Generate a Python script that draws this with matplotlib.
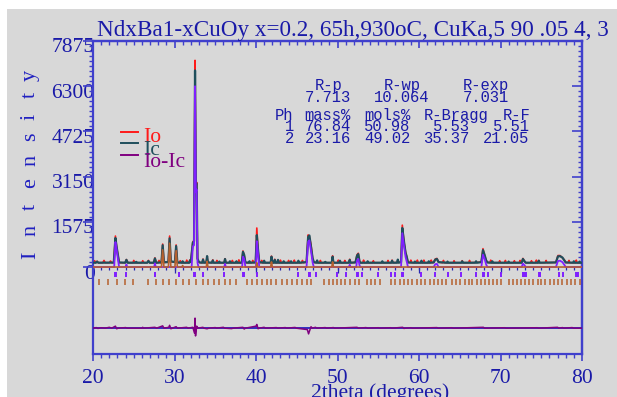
import matplotlib
matplotlib.use('Agg')
import matplotlib.pyplot as plt
import numpy as np
from matplotlib.patches import Rectangle
from matplotlib.lines import Line2D
from matplotlib.ticker import FixedLocator, MultipleLocator
import matplotlib.transforms as mtransforms

# ---- data ----
title = 'NdxBa1-xCuOy x=0.2, 65h,930oC, CuKa,5 90 .05 4, 3'

# observed pattern Io (2theta, counts)
obs_pts = [(20.0,150),(20.2,220),(20.35,150),(20.5,200),(20.65,150),(21.2,150),(21.35,230),(21.5,150),
           (22.0,150),(22.15,210),(22.3,150),(22.55,150),(22.75,1080),(22.9,680),(23.05,440),(23.2,150),
           (23.95,150),(24.1,260),(24.3,150),(24.9,150),(25.0,230),(25.15,150),(26.0,150),(26.1,220),(26.25,150),
           (26.65,150),(26.8,230),(26.95,150),(27.45,150),(27.6,320),(27.75,150),(28.0,150),(28.1,230),(28.25,150),
           (28.4,150),(28.55,800),(28.7,150),(29.25,180),(29.4,1080),(29.55,180),(30.05,170),(30.2,770),(30.35,150),
           (30.6,150),(30.7,220),(30.85,150),(31.4,150),(31.5,240),(31.65,150),(31.8,150),(31.9,250),(32.0,180),
           (32.25,880),(32.4,920),(32.52,7200),(32.62,2700),(32.72,2950),(32.82,290),(32.95,180),(33.1,150),
           (33.4,150),(33.5,280),(33.6,150),(33.9,150),(34.0,370),(34.1,150),(34.6,150),(34.7,250),(34.8,150),
           (35.1,150),(35.2,230),(35.3,150),(36.1,150),(36.2,290),(36.3,150),(37.0,150),(37.1,230),(37.2,150),
           (37.8,150),(37.9,250),(38.0,150),(38.25,150),(38.4,560),(38.55,400),(38.7,150),(39.5,150),(39.6,230),
           (39.7,150),(39.95,160),(40.1,1360),(40.25,560),(40.4,170),(40.6,150),(40.7,230),(40.8,150),
           (41.8,150),(41.9,380),(42.0,150),(42.2,150),(42.3,270),(42.4,150),(42.9,150),(43.0,240),(43.1,150),
           (43.9,150),(44.0,230),(44.1,150),(44.6,150),(44.7,240),(44.8,150),(45.6,150),(45.7,230),(45.8,150),
           (46.2,170),(46.4,1120),(46.55,1050),(46.75,780),(46.95,280),(47.1,160),(47.8,150),(47.9,230),(48.0,150),
           (49.3,150),(49.4,390),(49.5,150),(50.0,150),(50.1,240),(50.2,150),(50.8,150),(50.9,230),(51.0,150),
           (51.4,150),(51.5,270),(51.6,150),(52.2,160),(52.4,430),(52.55,480),(52.7,200),(52.8,150),
           (53.1,150),(53.2,240),(53.3,150),(54.3,150),(54.4,220),(54.5,150),(56.1,150),(56.2,230),(56.3,150),
           (56.6,150),(56.7,240),(56.8,150),(57.8,170),(57.95,1460),(58.15,880),(58.35,520),(58.5,360),(58.65,160),
           (58.9,150),(59.0,240),(59.1,150),(59.7,150),(59.8,240),(59.9,150),(60.5,150),(60.6,240),(60.7,150),
           (61.4,150),(61.5,240),(61.6,150),(61.8,160),(62.0,280),(62.2,300),(62.4,170),(62.9,150),(63.0,230),
           (63.1,150),(64.2,150),(64.3,220),(64.4,150),(65.2,150),(65.3,220),(65.4,150),(66.1,150),(66.2,230),
           (66.3,150),(67.65,170),(67.85,640),(68.05,400),(68.25,230),(68.4,160),(68.7,150),(68.8,240),(68.9,150),
           (69.8,150),(69.9,220),(70.0,150),(70.5,150),(70.6,230),(70.7,150),(71.6,150),(71.7,220),(71.8,150),
           (72.3,150),(72.4,230),(72.5,150),(72.6,150),(72.75,300),(72.95,200),(73.1,150),(73.7,150),(73.8,220),
           (73.9,150),(74.3,150),(74.4,240),(74.5,150),(74.6,150),(74.7,230),(74.8,150),(75.5,150),(75.6,230),
           (75.7,150),(76.8,160),(77.05,400),(77.3,400),(77.6,320),(77.85,240),(78.0,160),(78.3,150),(78.4,230),
           (78.5,150),(79.2,150),(79.3,240),(79.4,150),(80.0,150)]

# calculated pattern Ic
calc_pts = [(20.0,150),(20.35,150),(20.5,190),(20.65,150),(22.55,155),(22.75,1010),(22.9,700),(23.05,420),
            (23.2,160),(23.95,150),(24.1,250),(24.25,150),(25.2,150),(25.3,180),(25.4,150),(26.65,150),
            (26.8,210),(26.95,150),(27.45,150),(27.6,300),(27.75,150),(28.4,160),(28.55,760),(28.7,170),
            (29.25,170),(29.4,1000),(29.55,200),(30.05,170),(30.2,730),(30.35,160),(30.9,150),(31.0,200),
            (31.1,150),(31.8,150),(31.9,230),(32.0,170),(32.25,850),(32.4,900),(32.52,6850),(32.62,2950),
            (32.72,2900),(32.82,300),(32.95,200),(33.1,160),(33.4,150),(33.5,260),(33.6,150),(33.9,160),
            (34.0,380),(34.1,160),(34.6,150),(34.7,230),(34.8,150),(35.4,150),(35.5,190),(35.6,150),
            (36.1,150),(36.2,280),(36.3,150),(36.7,150),(36.8,200),(36.9,150),(37.5,150),(37.6,200),(37.7,150),
            (38.25,150),(38.4,530),(38.55,420),(38.7,160),(39.1,150),(39.2,200),(39.3,150),(39.95,160),
            (40.1,1110),(40.25,600),(40.4,170),(40.9,150),(41.0,220),(41.1,150),(41.8,150),(41.9,360),
            (42.0,150),(42.2,150),(42.3,250),(42.4,150),(42.6,150),(42.7,250),(42.8,150),(43.3,150),(43.4,200),
            (43.5,150),(44.2,150),(44.3,200),(44.4,150),(45.1,150),(45.2,220),(45.3,150),(46.2,170),(46.4,1050),
            (46.55,1100),(46.75,700),(46.95,300),(47.1,170),(47.4,150),(47.5,230),(47.6,150),(48.4,150),
            (48.5,180),(48.6,150),(49.3,150),(49.4,360),(49.5,150),(50.2,150),(50.3,220),(50.4,150),(51.4,150),
            (51.5,250),(51.6,150),(52.2,160),(52.4,400),(52.55,450),(52.7,200),(52.8,150),(53.6,150),(53.7,200),
            (53.8,150),(55.4,150),(55.5,200),(55.6,150),(56.6,150),(56.7,220),(56.8,150),(57.3,150),(57.4,260),
            (57.5,150),(57.8,170),(57.95,1360),(58.15,900),(58.35,500),(58.5,350),(58.65,160),(59.4,150),
            (59.5,190),(59.6,150),(60.2,150),(60.3,220),(60.4,150),(61.1,150),(61.2,200),(61.3,150),(61.8,160),
            (62.0,260),(62.2,280),(62.4,170),(63.4,150),(63.5,190),(63.6,150),(65.2,150),(65.3,200),(65.4,150),
            (66.9,150),(67.0,200),(67.1,150),(67.65,170),(67.85,590),(68.05,420),(68.25,220),(68.4,160),
            (68.9,150),(69.0,200),(69.1,150),(70.9,150),(71.0,190),(71.1,150),(72.6,150),(72.75,280),(72.95,200),
            (73.1,150),(74.6,150),(74.7,220),(74.8,150),(76.8,160),(77.05,370),(77.3,380),(77.6,330),(77.85,220),
            (78.0,160),(78.9,150),(79.0,200),(79.1,150),(79.6,150),(79.7,190),(79.8,150),(80.0,150)]

# phase 1 contribution (violet)
phase1_pts = [(20.0,0),(22.6,0),(22.75,870),(22.9,600),(23.05,300),(23.2,0),(24.0,0),(24.1,90),(24.2,0),
              (27.5,0),(27.6,130),(27.7,0),(32.1,0),(32.25,720),(32.4,760),(32.52,6300),(32.62,2600),
              (32.72,2700),(32.82,150),(32.95,0),(36.1,0),(36.2,110),(36.3,0),(38.3,0),(38.4,360),(38.55,280),
              (38.7,0),(40.0,0),(40.1,900),(40.25,450),(40.4,0),(46.2,0),(46.4,880),(46.55,930),(46.75,560),
              (46.95,150),(47.1,0),(51.4,0),(51.5,80),(51.6,0),(52.3,0),(52.4,230),(52.55,280),(52.7,60),
              (52.8,0),(57.8,0),(57.95,1180),(58.15,750),(58.35,350),(58.5,180),(58.65,0),(61.8,0),(62.0,100),
              (62.2,110),(62.4,0),(67.65,0),(67.85,430),(68.05,280),(68.25,80),(68.4,0),(72.6,0),(72.75,120),
              (72.95,60),(73.1,0),(76.8,0),(77.05,210),(77.3,220),(77.6,170),(77.85,70),(78.0,0),(80.0,0)]

# phase 2 contribution (brown)
phase2_pts = [(20.0,0),(28.4,0),(28.55,600),(28.7,0),(29.25,0),(29.4,830),(29.55,0),(30.05,0),(30.2,570),
              (30.35,0),(30.9,0),(31.0,50),(31.1,0),(33.9,0),(34.0,200),(34.1,0),(40.0,0),(40.1,150),(40.2,0),
              (41.8,0),(41.9,180),(42.0,0),(49.3,0),(49.4,180),(49.5,0),(80.0,0)]

# difference Io-Ic, drawn around its offset line
diff_offset = -2130
diff_pts = [(20.0,0),(20.4,20),(20.6,-10),(21.0,15),(21.5,0),(22.0,30),(22.3,0),(22.75,70),(22.9,-20),(23.1,0),
            (24.0,20),(24.2,0),(26.0,0),(26.1,30),(26.2,0),(27.6,30),(27.8,0),(28.55,80),(28.7,0),(29.3,30),
            (29.4,100),(29.55,-20),(30.2,50),(30.35,0),(31.5,30),(31.65,0),(32.25,30),(32.45,-170),(32.52,350),
            (32.58,-270),(32.72,70),(32.85,0),(33.5,30),(33.6,0),(34.0,-20),(34.2,0),(35.0,20),(35.15,0),
            (36.0,30),(36.15,0),(37.0,-15),(37.2,0),(38.4,30),(38.55,-30),(38.7,0),(40.0,70),(40.1,130),
            (40.25,-20),(40.4,0),(41.0,30),(41.15,0),(42.5,20),(42.65,0),(43.6,20),(43.75,0),(44.8,25),(44.95,0),
            (46.3,-50),(46.45,-200),(46.6,-70),(46.75,50),(46.9,0),(47.3,30),(47.45,0),(48.5,20),(48.65,0),
            (49.5,20),(49.65,0),(52.4,30),(52.55,0),(53.5,20),(53.7,0),(55.0,15),(55.2,0),(56.5,15),(56.7,0),
            (58.0,30),(58.15,-10),(58.3,0),(59.0,15),(59.2,0),(62.2,20),(62.35,0),(64.0,15),(64.2,0),(67.9,30),
            (68.05,0),(70.5,15),(70.7,0),(74.5,15),(74.7,0),(77.0,30),(77.15,0),(77.6,20),(77.75,0),(78.8,20),
            (78.95,0),(80.0,0)]

# reflection markers
phase1_ticks = [22.75, 22.85, 24.1, 27.55, 27.65, 30.6, 32.45, 32.55, 33.5, 36.1, 38.45, 38.55, 40.1,
                45.2, 46.45, 46.55, 46.65, 47.4, 49.9, 51.1, 52.45, 52.55, 53.0, 55.0, 56.6, 57.0, 57.95,
                58.05, 60.2, 62.0, 63.5, 65.2, 67.0, 67.85, 67.95, 68.5, 70.1, 72.7, 72.8, 72.9, 73.0, 73.1,
                74.7, 74.8, 74.9, 77.2, 77.7, 79.3, 79.4, 79.5]
phase2_ticks = [20.74, 21.8, 22.9, 23.9, 24.95, 26.8, 27.7, 28.55, 29.37, 30.2, 31.1, 31.8, 32.6, 33.45,
                34.15, 34.85, 35.5, 36.2, 36.8, 37.5, 38.85, 39.5, 40.1, 40.7, 41.3, 41.9, 42.5, 43.15, 43.8,
                44.4, 45.0, 45.6, 46.2, 46.8, 48.3, 48.9, 49.5, 49.9, 50.4, 50.9, 51.5, 52.1, 52.6, 53.6, 54.1,
                54.6, 55.2, 56.6, 57.1, 57.7, 58.2, 58.7, 59.2, 59.7, 60.2, 60.7, 61.3, 61.8, 62.3, 62.8, 63.3,
                64.0, 64.5, 65.0, 65.6, 66.1, 66.5, 67.1, 67.6, 68.1, 68.6, 69.1, 69.6, 70.1, 71.0, 71.5, 72.0,
                72.5, 73.0, 73.5, 74.0, 74.6, 75.0, 75.5, 76.1, 76.6, 77.1, 77.6, 78.1, 78.6, 79.1, 79.7]

y_ticks = [0, 1575, 3150, 4725, 6300, 7875]
x_ticks = [20, 30, 40, 50, 60, 70, 80]

stats_lines = ['    R-p    R-wp    R-exp',
               '   7.713  10.064   7.031',
               'Ph mass% mols% R-Bragg R-F',
               ' 1 76.84 50.98  5.53  5.51',
               ' 2 23.16 49.02 35.37 21.05']
stats_base = [90, 102, 120, 131, 143]   # baselines, px from top

legend_names = ['Io', 'Ic', 'Io-Ic']

# ---- styles ----
W, H = 617, 397
BG = '#d8d8d8'
AXC = '#4040cc'
TXT = '#1a1aa8'
C_OBS = '#ff1a1a'
C_CALC = '#1f4f5c'
C_P1 = '#8020ff'
C_P2 = '#b5602e'
C_DIFF = '#800080'
SERIF = 'Liberation Serif'
COL_W = 9.9   # px per character column in the statistics block


def fx(px):
    return px / W


def fy(py):
    return 1 - py / H


fig = plt.figure(figsize=(W / 100, H / 100), dpi=100, facecolor='white')
fig.patches.append(Rectangle((fx(7), 0), 1, fy(9), transform=fig.transFigure,
                             facecolor=BG, edgecolor='none', zorder=-10))

ax = fig.add_axes([fx(93), fy(354), fx(582) - fx(93), fy(41) - fy(354)])
ax.set_facecolor('none')
ax.set_xlim(20, 80)
ax.set_ylim(-3030, 7875)

ox, oy = zip(*obs_pts)
cx, cy = zip(*calc_pts)
p1x, p1y = zip(*phase1_pts)
p2x, p2y = zip(*phase2_pts)
dx, dy = zip(*diff_pts)

ax.plot(ox, oy, color=C_OBS, lw=1.2, zorder=2)
ax.plot(cx, cy, color=C_CALC, lw=1.6, zorder=3)
ax.plot(p1x, p1y, color=C_P1, lw=1.3, zorder=4)
ax.plot(p2x, p2y, color=C_P2, lw=1.2, zorder=5)

# difference curve with its zero line
ax.axhline(diff_offset, color='#3030c0', lw=1.4, zorder=3)
ax.plot(dx, np.array(dy) + diff_offset, color=C_DIFF, lw=1.1, zorder=4)

# reflection markers
ax.vlines(phase1_ticks, -360, -170, color=C_P1, lw=1.4, zorder=3)
ax.vlines(phase2_ticks, -630, -400, color=C_P2, lw=1.1, zorder=3)

# small axis ticks hanging under the zero line
ax.vlines(np.arange(21, 80), -110, 0, color='#2828b0', lw=0.9, zorder=1)
ax.vlines(x_ticks[1:-1], -210, 0, color='#2828b0', lw=0.9, zorder=1)

for sp in ax.spines.values():
    sp.set_color(AXC)
    sp.set_linewidth(1.6)

# bottom axis
ax.set_xticks(x_ticks)
ax.xaxis.set_minor_locator(MultipleLocator(1))
ax.tick_params(axis='x', which='major', direction='out', length=5, width=1.2, color=AXC,
               labelsize=15.5, labelcolor=TXT, pad=6, top=False)
ax.tick_params(axis='x', which='minor', direction='out', length=3, width=1.0, color=AXC, top=False)
for lab in ax.get_xticklabels():
    lab.set_fontfamily(SERIF)

# top axis
top = ax.secondary_xaxis('top')
top.set_xticks(x_ticks)
top.xaxis.set_minor_locator(MultipleLocator(1))
top.tick_params(which='major', direction='in', length=5, width=1.2, color=AXC, labeltop=False)
top.tick_params(which='minor', direction='in', length=3, width=1.0, color=AXC)
top.spines['top'].set_color(AXC)
top.spines['top'].set_linewidth(1.6)

# left axis
ax.set_yticks(y_ticks)
ax.yaxis.set_minor_locator(FixedLocator(np.arange(0, 7876, 175)))
ax.tick_params(axis='y', which='major', direction='out', length=7, width=1.2, color=AXC,
               labelleft=False, right=False)
ax.tick_params(axis='y', which='minor', direction='out', length=3, width=1.0, color=AXC, right=False)

# right axis
rgt = ax.secondary_yaxis('right')
rgt.set_yticks(y_ticks)
rgt.yaxis.set_minor_locator(FixedLocator(np.arange(0, 7876, 175)))
rgt.tick_params(which='major', direction='in', length=7, width=1.2, color=AXC, labelright=False)
rgt.tick_params(which='minor', direction='in', length=3, width=1.0, color=AXC)
rgt.spines['right'].set_color(AXC)
rgt.spines['right'].set_linewidth(1.6)

# y tick labels, sitting a little below their ticks
shift = mtransforms.ScaledTranslation(0, -7 / 100, fig.dpi_scale_trans)
for v in y_ticks:
    ax.text(1.5 / (582 - 93), v, str(v), transform=ax.get_yaxis_transform() + shift,
            ha='right', va='center', fontsize=15.5, family=SERIF, color=TXT, zorder=1)

# y label, letter by letter
for ch, yc in zip('Intensity', [255, 230, 207, 183, 160, 137, 117, 95, 75]):
    fig.text(fx(35), fy(yc), ch, rotation=90, rotation_mode='anchor', ha='center', va='baseline',
             fontsize=16, family=SERIF, color='#2020c0')

fig.text(fx(380), fy(383), '2theta (degrees)', ha='center', va='top', fontsize=15.5,
         family=SERIF, color=TXT)

fig.text(fx(97), fy(36), title, ha='left', va='baseline', fontsize=16.7, family=SERIF, color=TXT)

# legend
for name, col, ly, tb in zip(legend_names, [C_OBS, C_CALC, C_DIFF], [132, 143, 155], [142, 155, 167]):
    fig.add_artist(Line2D([fx(121), fx(138)], [fy(ly), fy(ly)], color=col, lw=1.4,
                          transform=fig.transFigure))
    fig.text(fx(143), fy(tb), name, ha='left', va='baseline', fontsize=15.5, family=SERIF, color=col)

# refinement statistics: each word placed on its character column
for line, b in zip(stats_lines, stats_base):
    col = 0
    for word in line.split(' '):
        if word:
            fig.text(fx(275 + col * COL_W), fy(b), word, ha='left', va='baseline', fontsize=11.2,
                     family='Liberation Mono', color=TXT)
        col += len(word) + 1

fig.savefig('out.png', dpi=100, facecolor='white')
